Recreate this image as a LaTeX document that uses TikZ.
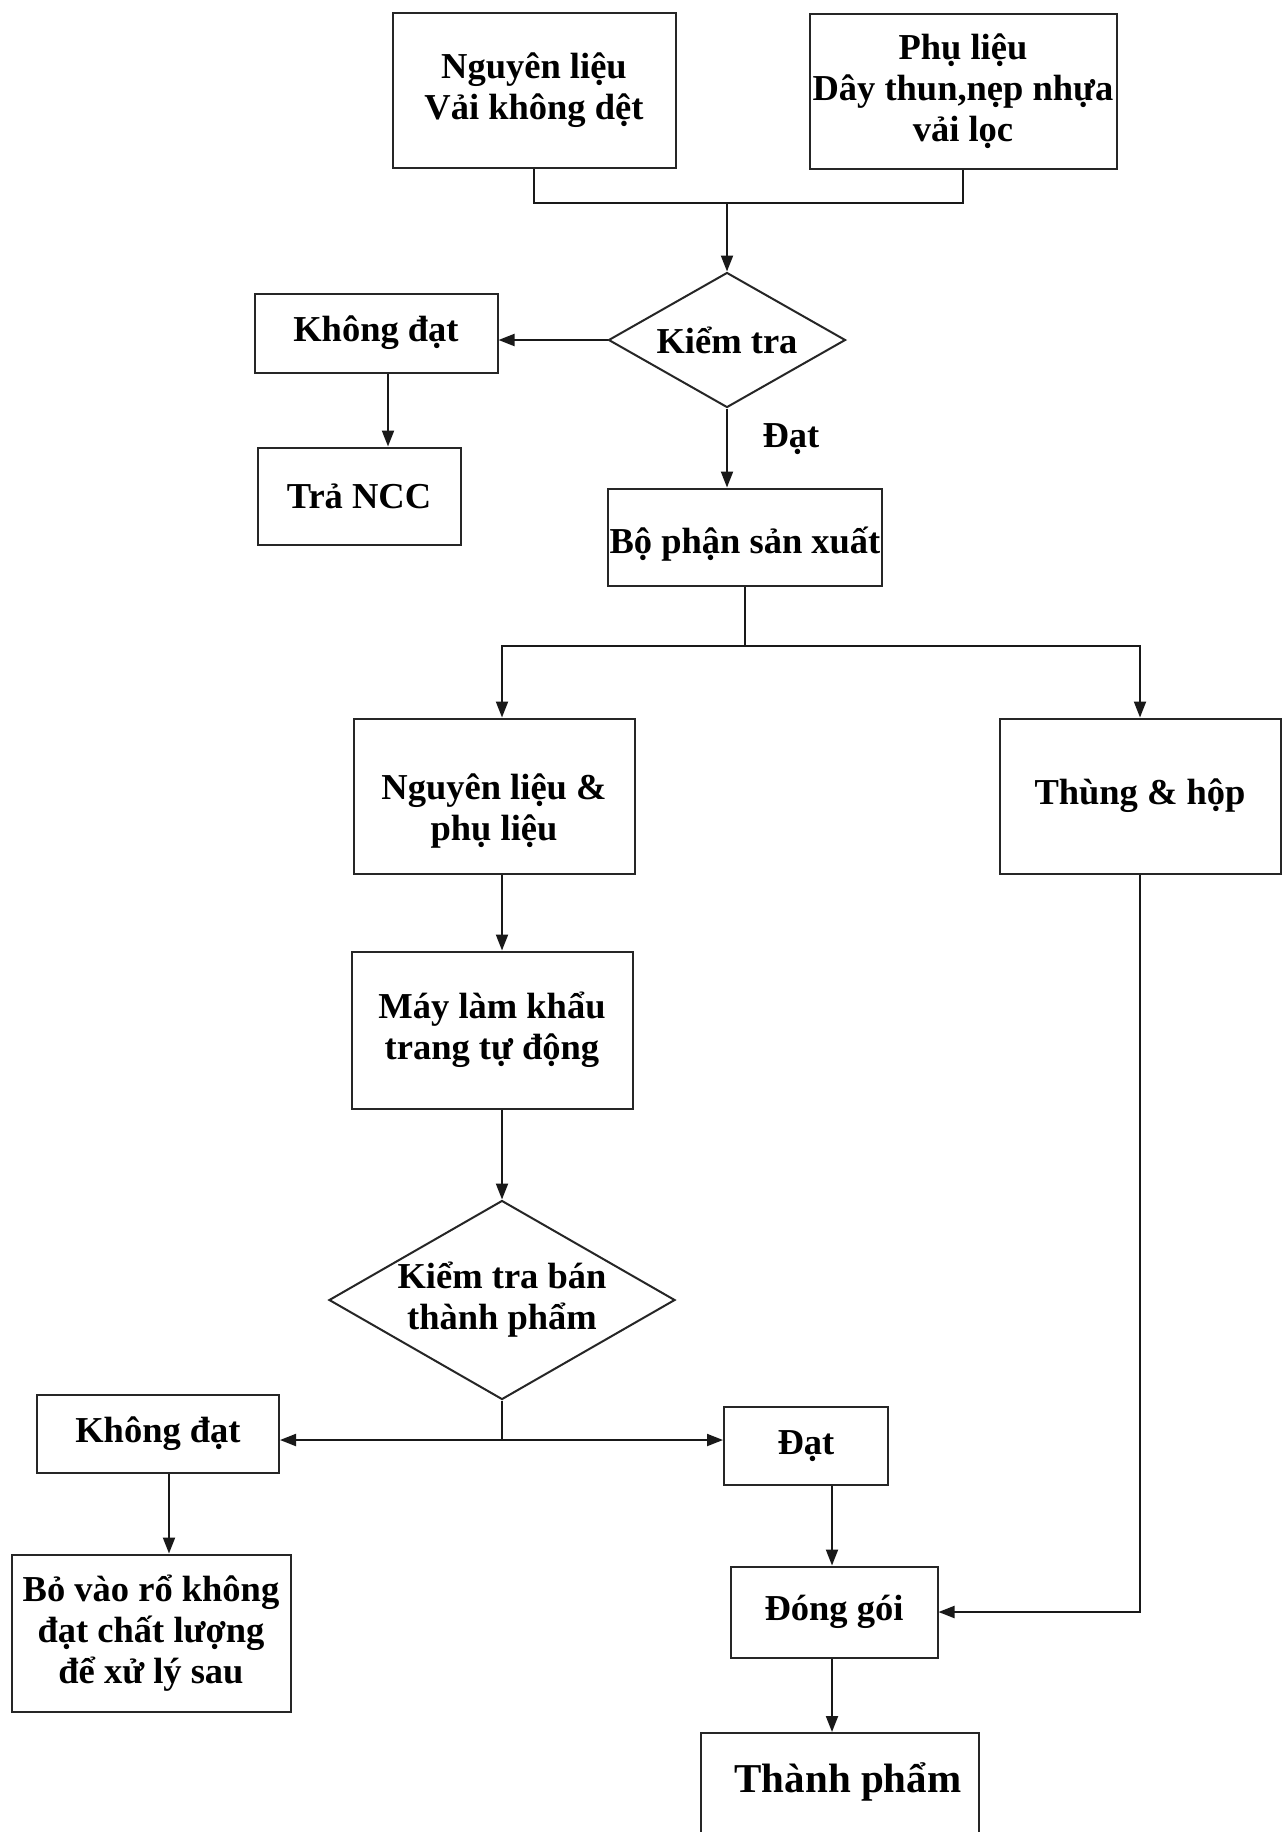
\documentclass[tikz,border=0pt]{standalone}
\usepackage{fontspec}
\setmainfont{Liberation Serif}
\usetikzlibrary{shapes.geometric,arrows.meta,calc}
\begin{document}
\begin{tikzpicture}[x=1pt,y=-1pt,
  box/.style={draw=black!85, line width=2pt, rectangle, inner sep=0pt, align=center, font=\bfseries\fontsize{36.5}{41}\selectfont},
  dia/.style={draw=black!85, line width=2pt, diamond, inner sep=0pt},
  txt/.style={align=center, font=\bfseries\fontsize{36.5}{41}\selectfont, inner sep=0pt},
  conn/.style={line width=2pt, draw=black!90},
  arr/.style={conn, -{Triangle[length=16pt,width=12pt]}}]
\clip (0,0) rectangle (1283,1832);
\fill[white] (0,0) rectangle (1283,1832);
% nodes
\node[box, minimum width=283, minimum height=155] (n1) at (534,90) {Nguyên liệu\\Vải không dệt};
\node[box, minimum width=307, minimum height=155] (n2) at (963,91) {Phụ liệu\\Dây thun,nẹp nhựa\\vải lọc};
\node[dia, minimum width=237, minimum height=135] (d1) at (727,340) {};
\node[txt] at (d1) {Kiểm tra};
\node[box, minimum width=243, minimum height=79] (k1) at (376,333) {Không đạt};
\node[box, minimum width=203, minimum height=97] (t1) at (359,496) {Trả NCC};
\node[txt] (lbl) at (791,439) {Đạt};
\node[box, minimum width=274, minimum height=97] (b1) at (745,537) {};
\node[txt] at (745,544) {Bộ phận sản xuất};
\node[box, minimum width=281, minimum height=155] (n3) at (494,796) {};
\node[txt] at (494,811) {Nguyên liệu \&\\ phụ liệu};
\node[box, minimum width=281, minimum height=155] (n4) at (1140,796) {Thùng \& hộp};
\node[box, minimum width=281, minimum height=157] (m1) at (492,1030) {Máy làm khẩu\\trang tự động};
\node[dia, minimum width=346, minimum height=199] (d2) at (502,1300) {};
\node[txt] at (d2) {Kiểm tra bán\\thành phẩm};
\node[box, minimum width=242, minimum height=78] (k2) at (158,1434) {Không đạt};
\node[box, minimum width=164, minimum height=78] (dat2) at (806,1446) {Đạt};
\node[box, minimum width=279, minimum height=157] (bo) at (151,1633) {Bỏ vào rổ không\\đạt chất lượng\\để xử lý sau};
\node[box, minimum width=207, minimum height=91] (dg) at (834,1612) {Đóng gói};
\node[box, minimum width=278, minimum height=160] (tp) at (840,1813) {};
\node[txt, font=\bfseries\fontsize{41}{45}\selectfont] at (848,1782) {Thành phẩm};
% helper coordinates
\coordinate (j1) at (727,203);
\coordinate (ka) at (388,0);
\coordinate (j2) at (745,646);
\coordinate (cx) at (502,0);
\coordinate (j3) at (502,1440);
\coordinate (kb) at (169,0);
\coordinate (dx) at (832,0);
% connectors
\draw[conn] (n1.south) |- (j1) -| (n2.south);
\draw[arr] (j1) -- (d1.north);
\draw[arr] (d1.west) -- (d1.west -| k1.east);
\draw[arr] (k1.south -| ka) -- (t1.north -| ka);
\draw[arr] (d1.south) -- (b1.north -| d1.south);
\draw[conn] (b1.south) -- (j2);
\draw[arr] (j2) -| (n3.north -| cx);
\draw[arr] (j2) -| (n4.north);
\draw[arr] (n3.south -| cx) -- (m1.north -| cx);
\draw[arr] (m1.south -| cx) -- (d2.north);
\draw[conn] (d2.south) -- (j3);
\draw[arr] (j3) -- (j3 -| k2.east);
\draw[arr] (j3) -- (j3 -| dat2.west);
\draw[arr] (k2.south -| kb) -- (bo.north -| kb);
\draw[arr] (dat2.south -| dx) -- (dg.north -| dx);
\draw[arr] (n4.south) |- (dg.east);
\draw[arr] (dg.south -| dx) -- (tp.north -| dx);
\end{tikzpicture}
\end{document}
